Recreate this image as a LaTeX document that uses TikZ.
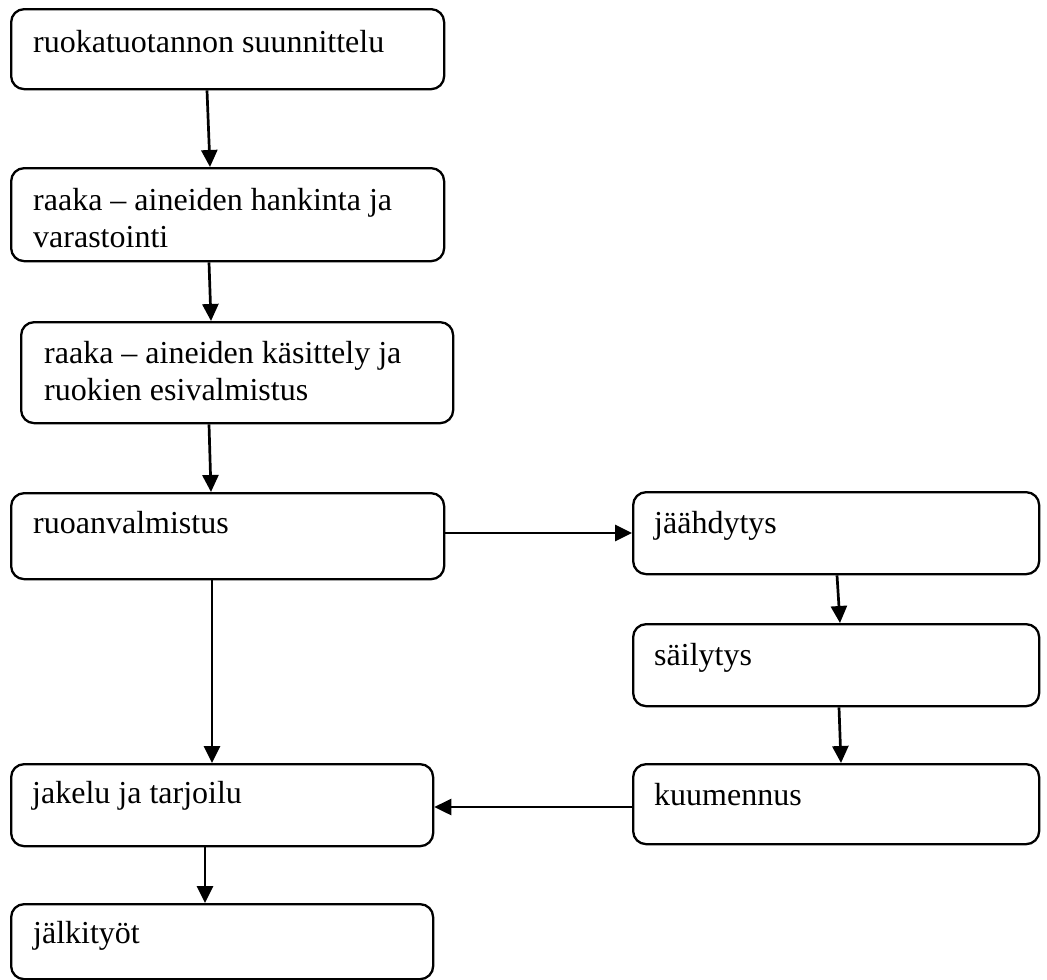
\documentclass[tikz,border=0pt]{standalone}
\usepackage{fontspec}
\setmainfont{Liberation Serif}
\usetikzlibrary{arrows.meta}
\begin{document}
\begin{tikzpicture}[x=1pt,y=-1pt,
  box/.style={draw, line width=2.3pt, rounded corners=13pt, anchor=north west, inner sep=0pt},
  txt/.style={anchor=base west, inner sep=0pt, font=\fontsize{32}{37}\selectfont, align=left},
  arr/.style={line width=2.7pt, -{Triangle[length=17pt,width=16pt]}}]
\useasboundingbox (0,0) rectangle (1047,980);
% boxes
\node[box, minimum width=433pt, minimum height=80pt]  (b1) at (10,8) {};
\node[box, minimum width=433pt, minimum height=93pt]  (b2) at (10,167) {};
\node[box, minimum width=432pt, minimum height=101pt] (b3) at (20,321) {};
\node[box, minimum width=433pt, minimum height=86pt]  (b4) at (10,492) {};
\node[box, minimum width=406pt, minimum height=82pt]  (b5) at (632,491) {};
\node[box, minimum width=406pt, minimum height=82pt]  (b6) at (632,623) {};
\node[box, minimum width=406pt, minimum height=80pt]  (b7) at (632,763) {};
\node[box, minimum width=422pt, minimum height=82pt]  (b8) at (10,763) {};
\node[box, minimum width=422pt, minimum height=75pt]  (b9) at (10,903) {};
% texts
\node[txt] (t1) at (33,52) {ruokatuotannon suunnittelu};
\node[txt] (t2) at (33,247) {raaka – aineiden hankinta ja\\varastointi};
\node[txt] (t3) at (44,400) {raaka – aineiden käsittely ja\\ruokien esivalmistus};
\node[txt] (t4) at (33,533) {ruoanvalmistus};
\node[txt] (t5) at (654,533) {jäähdytys};
\node[txt] (t6) at (654,665) {säilytys};
\node[txt] (t7) at (654,805) {kuumennus};
\node[txt] (t8) at (32,803) {jakelu ja tarjoilu};
\node[txt] (t9) at (33,943) {jälkityöt};
% arrows
\draw[arr] ([xshift=197pt]b1.south west) -- ([xshift=200pt]b2.north west);
\draw[arr] ([xshift=199pt]b2.south west) -- ([xshift=191pt]b3.north west);
\draw[arr] ([xshift=189pt]b3.south west) -- ([xshift=201pt]b4.north west);
\draw[arr] ([xshift=202pt]b4.south west) -- ([xshift=202pt]b8.north west);
\draw[arr] ([yshift=-41pt]b4.north east) -- ([yshift=-41pt]b4.north east -| b5.west);
\draw[arr] ([xshift=205pt]b5.south west) -- ([xshift=208pt]b6.north west);
\draw[arr] ([xshift=207pt]b6.south west) -- ([xshift=209pt]b7.north west);
\draw[arr] ([yshift=-44pt]b7.north west) -- ([yshift=-44pt]b7.north west -| b8.east);
\draw[arr] ([xshift=195pt]b8.south west) -- ([xshift=195pt]b9.north west);
\end{tikzpicture}
\end{document}
